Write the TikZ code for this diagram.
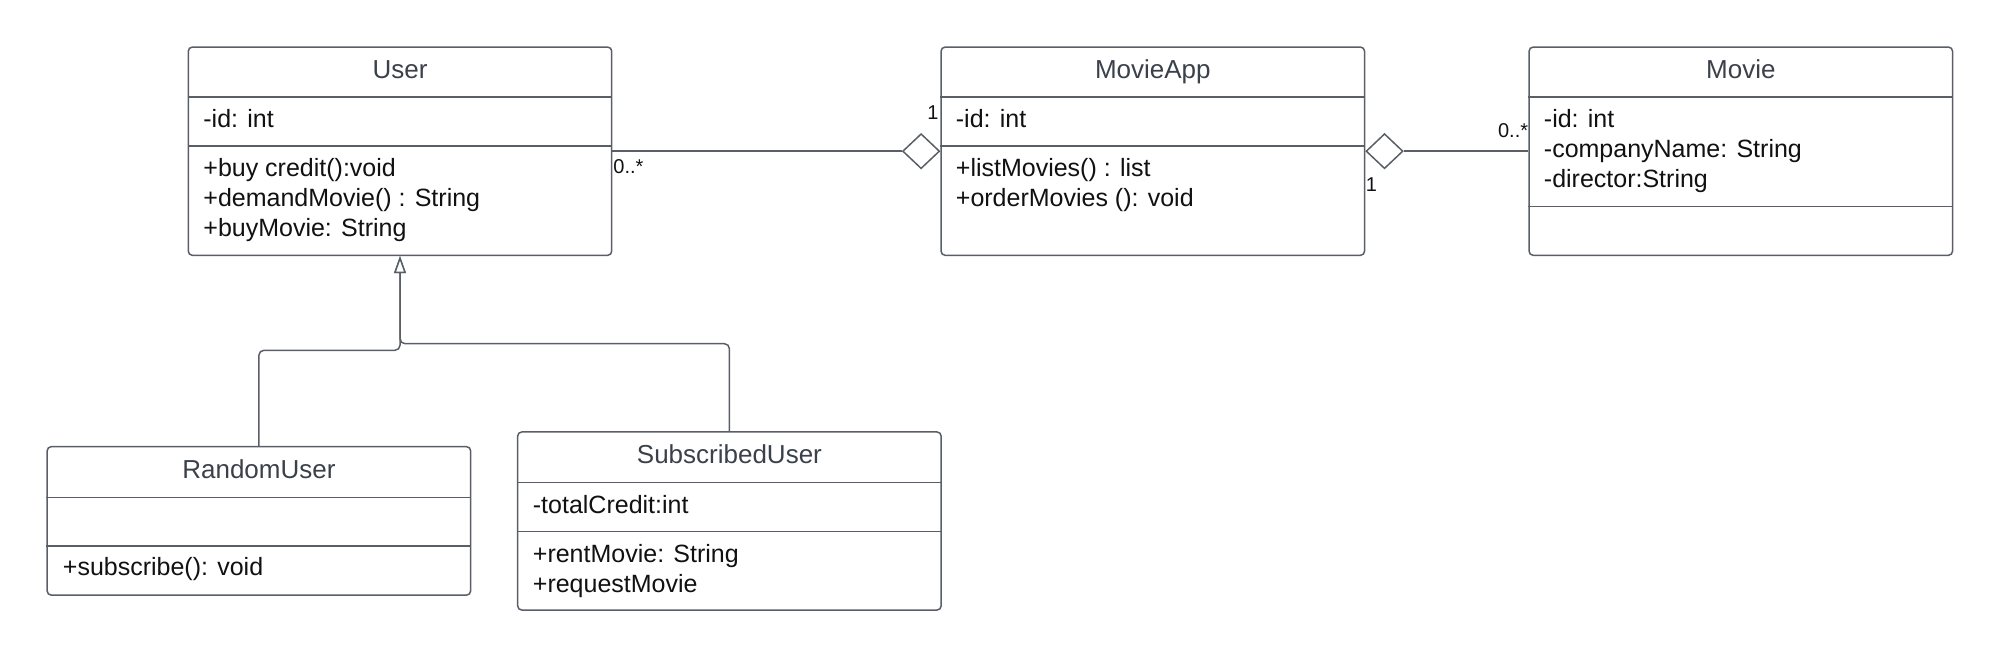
\documentclass[tikz,border=0pt]{standalone}
\usepackage{fontspec}
\setmainfont{Liberation Sans}
\usetikzlibrary{shapes.geometric,arrows.meta}
\definecolor{lc}{HTML}{5A5F67}
\definecolor{tc}{HTML}{3A414A}
\definecolor{bc}{HTML}{111111}
\tikzset{
  classbox/.style={draw=lc, line width=0.75pt, rounded corners=2pt, fill=white, inner sep=0pt, minimum width=211.7pt},
  divline/.style={draw=lc, line width=0.75pt},
  ctitle/.style={text=tc, font=\fontsize{13pt}{15pt}\selectfont, anchor=base, inner sep=0pt},
  member/.style={text=bc, font=\fontsize{12.5pt}{15pt}\selectfont, anchor=base west, inner sep=0pt},
  mult/.style={text=bc, font=\fontsize{10pt}{12pt}\selectfont, inner sep=0pt},
  conn/.style={draw=lc, line width=0.75pt},
  aggr/.style={diamond, draw=lc, line width=0.75pt, fill=white, inner sep=0pt, minimum width=18.5pt, minimum height=17.5pt},
  inh/.style={draw=lc, line width=0.75pt, rounded corners=2.5pt, -{Triangle[open, width=5.8pt, length=8.5pt, fill=white]}},
}
\begin{document}
\begin{tikzpicture}[x=0.5pt, y=-0.5pt]
\useasboundingbox (0,0) rectangle (2000,656);

% ---------- User ----------
\node[classbox, minimum height=104.1pt] (user) at (400,151.2) {};
\draw[divline] (user.west |- 0,97) -- (user.east |- 0,97);
\draw[divline] (user.west |- 0,146) -- (user.east |- 0,146);
\node[ctitle] (usert) at (400,78.3) {User};
\node[member] (user1) at (203,127.3) {-id: int};
\node[member] (user2) at (203,176.8) {+buy credit():void};
\node[member] (user3) at (203,206.8) {+demandMovie() : String};
\node[member] (user4) at (203,236.8) {+buyMovie: String};

% ---------- MovieApp ----------
\node[classbox, minimum height=104.1pt] (app) at (1152.8,151.2) {};
\draw[divline] (app.west |- 0,97) -- (app.east |- 0,97);
\draw[divline] (app.west |- 0,146) -- (app.east |- 0,146);
\node[ctitle] (appt) at (1152.8,78.3) {MovieApp};
\node[member] (app1) at (955.5,127.3) {-id: int};
\node[member] (app2) at (955.5,176.8) {+listMovies() : list};
\node[member] (app3) at (955.5,206.8) {+orderMovies (): void};

% ---------- Movie ----------
\node[classbox, minimum height=104.1pt] (movie) at (1740.8,151.2) {};
\draw[divline] (movie.west |- 0,97) -- (movie.east |- 0,97);
\draw[divline] (movie.west |- 0,206.3) -- (movie.east |- 0,206.3);
\node[ctitle] (moviet) at (1740.8,78.3) {Movie};
\node[member] (movie1) at (1543.5,127.3) {-id: int};
\node[member] (movie2) at (1543.5,157.3) {-companyName: String};
\node[member] (movie3) at (1543.5,187.3) {-director:String};

% ---------- RandomUser ----------
\node[classbox, minimum height=74.2pt] (random) at (258.9,520.9) {};
\draw[divline] (random.west |- 0,497.3) -- (random.east |- 0,497.3);
\draw[divline] (random.west |- 0,546) -- (random.east |- 0,546);
\node[ctitle] (randomt) at (258.9,478.2) {RandomUser};
\node[member] (random1) at (62.5,575.6) {+subscribe(): void};

% ---------- SubscribedUser ----------
\node[classbox, minimum height=89pt] (sub) at (729.4,521) {};
\draw[divline] (sub.west |- 0,482.3) -- (sub.east |- 0,482.3);
\draw[divline] (sub.west |- 0,531.7) -- (sub.east |- 0,531.7);
\node[ctitle] (subt) at (729.4,463.3) {SubscribedUser};
\node[member] (sub1) at (532.5,514) {-totalCredit:int};
\node[member] (sub2) at (532.5,562.6) {+rentMovie: String};
\node[member] (sub3) at (532.5,592.6) {+requestMovie};

% ---------- aggregations ----------
\node[aggr, anchor=east] (d1) at (app.west) {};
\draw[conn] (user.east) -- (d1.west);
\node[mult, anchor=base east] (m1) at (939,120) {1};
\node[mult, anchor=base west] (m2) at (613,173.3) {0..*};

\node[aggr, anchor=west] (d2) at (app.east) {};
\draw[conn] (d2.east) -- (movie.west);
\node[mult, anchor=base west] (m3) at (1365.5,191.7) {1};
\node[mult, anchor=base east] (m4) at (1528.5,137.3) {0..*};

% ---------- generalisation ----------
\coordinate (j1) at (400,350.3);
\coordinate (j2) at (400,343.7);
\draw[inh] (random.north) |- (j1) -- (user.south);
\draw[inh] (sub.north) |- (j2) -- (user.south);
\end{tikzpicture}
\end{document}
